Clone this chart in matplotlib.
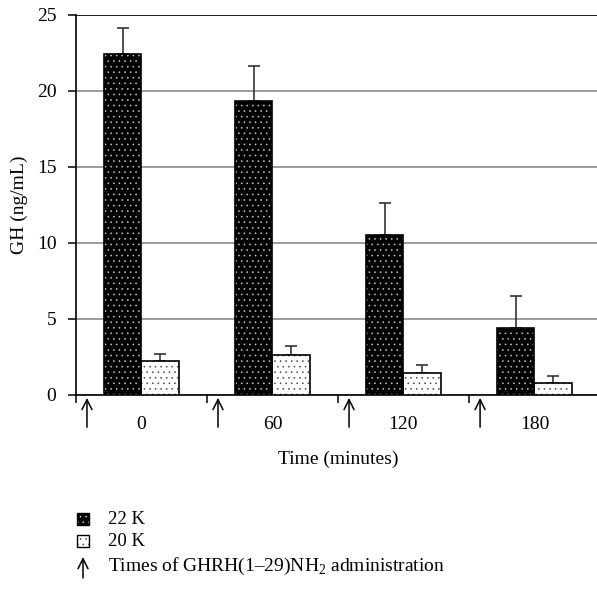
import matplotlib
matplotlib.use("Agg")
import matplotlib.pyplot as plt
from matplotlib.patches import Rectangle
import numpy as np

plt.rcParams['font.family'] = ['Liberation Serif', 'DejaVu Serif']
plt.rcParams['mathtext.fontset'] = 'custom'
plt.rcParams['mathtext.rm'] = 'Liberation Serif'
plt.rcParams['hatch.linewidth'] = 0.4

times = ['0', '60', '120', '180']
gh_22k = [22.4, 19.3, 10.5, 4.4]
err_22k = [1.7, 2.3, 2.1, 2.1]
gh_20k = [2.2, 2.6, 1.45, 0.75]
err_20k = [0.5, 0.6, 0.5, 0.5]

fig = plt.figure(figsize=(5.97, 5.92), dpi=100)
ax = fig.add_axes([0.127, 0.333, 0.878, 0.642])

x = np.arange(len(times)) + 0.5
w = 0.285

# 22 K: black with light dots
ax.bar(x - w / 2, gh_22k, w, color='black', edgecolor='#cccccc', hatch='...', linewidth=0, zorder=3)
ax.bar(x - w / 2, gh_22k, w, fill=False, edgecolor='black', linewidth=1.2, zorder=4)
# 20 K: white with dark dots
ax.bar(x + w / 2, gh_20k, w, color='white', edgecolor='#444444', hatch='...', linewidth=0, zorder=3)
ax.bar(x + w / 2, gh_20k, w, fill=False, edgecolor='black', linewidth=1.2, zorder=4)

ax.errorbar(x - w / 2, gh_22k, yerr=[[0] * 4, err_22k], fmt='none', ecolor='#333333',
            elinewidth=1.2, capsize=4.5, capthick=1.2, zorder=2)
ax.errorbar(x + w / 2, gh_20k, yerr=[[0] * 4, err_20k], fmt='none', ecolor='#333333',
            elinewidth=1.2, capsize=4.5, capthick=1.2, zorder=2)

ax.set_xlim(0, 4)
ax.set_ylim(0, 25)
ax.set_yticks(range(0, 26, 5))
ax.yaxis.grid(True, color='#808080', linewidth=1.1, zorder=1)
ax.set_axisbelow(True)

ax.set_xticks([0, 1, 2, 3])
ax.set_xticklabels([])
ax.set_xticks(x, minor=True)
ax.set_xticklabels(times, minor=True, fontsize=14)
ax.tick_params(axis='x', which='major', length=6, width=1.1, direction='out')
ax.tick_params(axis='x', which='minor', length=0, pad=15)
ax.tick_params(axis='y', length=6, width=1.1, labelsize=14, pad=8)

for s in ['top', 'right']:
    ax.spines[s].set_visible(False)
ax.spines['left'].set_linewidth(1.2)
ax.spines['bottom'].set_linewidth(1.2)
ax.axhline(25, color='black', linewidth=1.1, zorder=1)

# arrows marking GHRH administration
for i in range(len(times)):
    ax.annotate('', xy=(i + 0.085, -0.008), xytext=(i + 0.085, -0.085),
                xycoords=('data', 'axes fraction'), textcoords=('data', 'axes fraction'),
                arrowprops=dict(arrowstyle='->', color='black', lw=1.1,
                                mutation_scale=18, shrinkA=0, shrinkB=0),
                annotation_clip=False)

ax.set_xlabel('Time (minutes)', fontsize=14, labelpad=13)
ax.set_ylabel('GH (ng/mL)', fontsize=14, labelpad=6)

# legend drawn in figure coords
sq = 12 / 597
sqh = 12 / 592
fig.patches.append(Rectangle((77 / 597, 1 - 525 / 592), sq, sqh, transform=fig.transFigure,
                             facecolor='black', edgecolor='#cccccc', hatch='...', linewidth=0))
fig.patches.append(Rectangle((77 / 597, 1 - 525 / 592), sq, sqh, transform=fig.transFigure,
                             fill=False, edgecolor='black', linewidth=1))
fig.patches.append(Rectangle((77 / 597, 1 - 547 / 592), sq, sqh, transform=fig.transFigure,
                             facecolor='white', edgecolor='#444444', hatch='...', linewidth=0))
fig.patches.append(Rectangle((77 / 597, 1 - 547 / 592), sq, sqh, transform=fig.transFigure,
                             fill=False, edgecolor='black', linewidth=1))
fig.text(108 / 597, 1 - 519 / 592, '22 K', fontsize=13.5, va='center')
fig.text(108 / 597, 1 - 541 / 592, '20 K', fontsize=13.5, va='center')
ax.annotate('', xy=(83 / 597, 1 - 557 / 592), xytext=(83 / 597, 1 - 578 / 592),
            xycoords='figure fraction', textcoords='figure fraction',
            arrowprops=dict(arrowstyle='->', color='black', lw=1.1, mutation_scale=18,
                            shrinkA=0, shrinkB=0), annotation_clip=False)
fig.text(108 / 597, 1 - 566 / 592, r'Times of GHRH(1–29)NH$_\mathrm{2}$ administration',
         fontsize=14, va='center')

fig.savefig('out.png', dpi=100)
